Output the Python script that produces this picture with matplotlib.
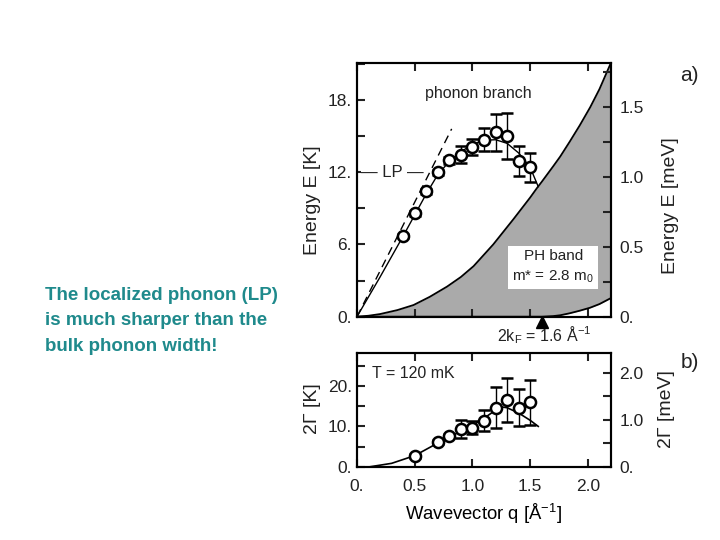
import matplotlib
matplotlib.use("Agg")
import matplotlib.pyplot as plt
from matplotlib.ticker import MultipleLocator, FuncFormatter

plt.rcParams['font.family'] = ['Liberation Sans', 'DejaVu Sans']
plt.rcParams['mathtext.fontset'] = 'custom'
plt.rcParams['mathtext.rm'] = 'Liberation Sans'
plt.rcParams['mathtext.it'] = 'Liberation Sans'

K_PER_MEV = 11.6

# panel a: measured dispersion
q_a = [0.4, 0.5, 0.6, 0.7, 0.8, 0.9, 1.0, 1.1, 1.2, 1.3, 1.4, 1.5]
E_a = [6.7, 8.6, 10.4, 12.0, 13.0, 13.45, 14.1, 14.7, 15.3, 15.0, 12.95, 12.4]
E_a_err = [0.2, 0.2, 0.2, 0.2, 0.3, 0.7, 0.65, 0.95, 1.5, 1.9, 1.25, 1.2]

# fitted LP branch
q_fit_a = [0.0, 0.2, 0.4, 0.6, 0.7, 0.8, 0.9, 1.0, 1.1, 1.2, 1.3, 1.4, 1.5, 1.57]
E_fit_a = [0.0, 3.3, 6.7, 10.2, 11.8, 12.9, 13.7, 14.3, 14.65, 14.7, 14.4, 13.6, 12.4, 10.8]

# phonon branch (dashed)
q_ph = [0.0, 0.82]
E_ph = [0.0, 15.6]

# particle-hole band boundaries
q_band = [0.0, 0.1, 0.2, 0.35, 0.49, 0.63, 0.78, 0.9, 1.01, 1.18, 1.355, 1.5, 1.56, 1.6,
          1.7, 1.76, 1.84, 1.93, 2.02, 2.1, 2.2]
E_band_hi = [0.0, 0.08, 0.22, 0.55, 0.97, 1.65, 2.5, 3.3, 4.2, 6.0, 8.1, 9.9, 10.7, 11.2,
             12.5, 13.3, 14.5, 15.9, 17.4, 18.9, 21.1]
E_band_lo = [0.0, 0.0, 0.0, 0.0, 0.0, 0.0, 0.0, 0.0, 0.0, 0.0, 0.0, 0.0, 0.0, 0.0,
             0.05, 0.12, 0.28, 0.5, 0.75, 1.05, 1.55]
two_kf = 1.6

# panel b: width
q_b = [0.5, 0.7, 0.8, 0.9, 1.0, 1.1, 1.2, 1.3, 1.4, 1.5]
G_b = [2.7, 6.2, 7.7, 9.3, 9.7, 11.4, 14.6, 16.5, 14.6, 15.9]
G_b_err = [0.4, 0.5, 0.5, 2.2, 1.6, 2.6, 5.0, 5.5, 4.6, 5.5]
q_fit_b = [0.1, 0.3, 0.5, 0.7, 0.9, 1.0, 1.1, 1.2, 1.25, 1.3, 1.4, 1.5, 1.57]
G_fit_b = [0.0, 0.9, 2.8, 5.9, 8.8, 10.2, 12.0, 14.0, 14.8, 14.6, 13.3, 11.5, 10.0]

ink = '#222222'
plt.rcParams['text.color'] = ink
plt.rcParams['xtick.color'] = ink
plt.rcParams['ytick.color'] = ink

fig = plt.figure(figsize=(7.2, 5.4), dpi=100)
ax1 = fig.add_axes([0.4958, 0.4135, 0.3528, 0.4698])
ax2 = fig.add_axes([0.4958, 0.1352, 0.3528, 0.2105])

# --- panel a ---
ax1.fill_between(q_band, E_band_lo, E_band_hi, color='#aaaaaa', lw=0)
ax1.plot(q_band, E_band_hi, color='k', lw=1.3)
ax1.plot(q_band, E_band_lo, color='k', lw=1.3)
ax1.plot(q_ph, E_ph, color='k', lw=1, ls=(0, (6, 4)))
ax1.plot(q_fit_a, E_fit_a, color='k', lw=1)
ax1.errorbar(q_a, E_a, yerr=E_a_err, fmt='o', ms=8, mfc='white', mec='k', mew=1.8,
             ecolor='k', elinewidth=1, capsize=4, capthick=1)
ax1.text(1.05, 18.5, 'phonon branch', ha='center', va='center', fontsize=11.5)
ax1.text(0.31, 12.0, '— LP —', ha='center', va='center', fontsize=12,
         bbox=dict(facecolor='white', edgecolor='none', pad=0))
ax1.text(1.7, 4.15, 'PH band\nm* = 2.8 m$_0$', ha='center', va='center', fontsize=11,
         linespacing=1.45, bbox=dict(facecolor='white', edgecolor='none', pad=3))
ax1.plot([two_kf], [-0.4], marker='^', ms=9, color='k', clip_on=False)
ax1.text(1.62, -1.55, '2k$_\\mathrm{F}$ = 1.6 Å$^{-1}$', ha='center', va='center', fontsize=11.5)

# --- panel b ---
ax2.plot(q_fit_b, G_fit_b, color='k', lw=1.2)
ax2.errorbar(q_b, G_b, yerr=G_b_err, fmt='o', ms=8, mfc='white', mec='k', mew=1.8,
             ecolor='k', elinewidth=1, capsize=4, capthick=1)
ax2.text(0.13, 23.0, 'T = 120 mK', ha='left', va='center', fontsize=11.5)
ax2.set_xlabel('Wavevector q [Å$^{-1}$]', fontsize=13.3, labelpad=5)


def fmt_dot(v, p):
    s = f'{v:g}'
    if '.' not in s:
        s += '.'
    return s


def fmt_one(v, p):
    return '0.' if v == 0 else f'{v:.1f}'


for ax, ylim, major, minor, rmajor, rminor in [(ax1, 21.07, 6, 3, 0.5, 0.25),
                                               (ax2, 28.0, 10, 5, 1.0, 0.5)]:
    ax.set_xlim(0, 2.2)
    ax.set_ylim(0, ylim)
    ax.xaxis.set_major_locator(MultipleLocator(0.5))
    ax.yaxis.set_major_locator(MultipleLocator(major))
    ax.yaxis.set_minor_locator(MultipleLocator(minor))
    ax.yaxis.set_major_formatter(FuncFormatter(fmt_dot))
    ax.xaxis.set_major_formatter(FuncFormatter(fmt_one))
    ax.tick_params(which='both', direction='in', top=True, width=1.5, labelsize=12.5)
    ax.tick_params(which='major', length=6)
    ax.tick_params(which='minor', length=6)
    ax.tick_params(axis='x', which='minor', bottom=False, top=False)
    ax.tick_params(axis='x', pad=9)
    for s in ax.spines.values():
        s.set_linewidth(1.5)
    r = ax.twinx()
    r.set_ylim(0, ylim / K_PER_MEV)
    r.yaxis.set_major_locator(MultipleLocator(rmajor))
    r.yaxis.set_minor_locator(MultipleLocator(rminor))
    r.yaxis.set_major_formatter(FuncFormatter(fmt_one))
    r.tick_params(which='both', direction='in', width=1.5, length=6, labelsize=12.5, pad=6)
    for s in r.spines.values():
        s.set_linewidth(1.5)

ax1.tick_params(axis='x', labelbottom=False)

fig.text(0.434, 0.630, 'Energy E [K]', rotation=90, ha='center', va='center', fontsize=14)
fig.text(0.931, 0.620, 'Energy E [meV]', rotation=90, ha='center', va='center', fontsize=14)
fig.text(0.434, 0.244, '2Γ [K]', rotation=90, ha='center', va='center', fontsize=14)
fig.text(0.926, 0.243, '2Γ [meV]', rotation=90, ha='center', va='center', fontsize=14)
fig.text(0.958, 0.861, 'a)', ha='center', va='center', fontsize=15)
fig.text(0.958, 0.328, 'b)', ha='center', va='center', fontsize=15)

fig.text(0.062, 0.468, 'The localized phonon (LP)\nis much sharper than the\nbulk phonon width!',
         ha='left', va='top', fontsize=13.5, fontweight='bold', color='#1f8a8c', linespacing=1.63)

fig.savefig('out.png', dpi=100)
